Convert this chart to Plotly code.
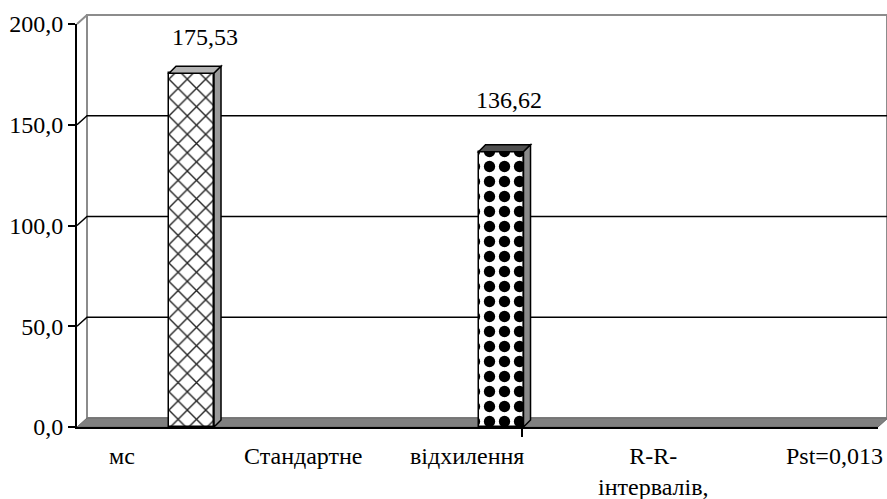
import plotly.graph_objects as go

# ---------------- data ----------------
groups = ["Група 1", "Група 2"]
values = [175.53, 136.62]
value_labels = ["175,53", "136,62"]
axis_words = ["мс", "Стандартне", "відхилення", "R-R-<br>інтервалів,", "Pst=0,013"]
y_ticks = [0, 50, 100, 150, 200]

# ---------------- geometry / style ----------------
W, H = 887, 499
L, R, T, B = 77, 9, 24, 72
PW, PH = W - L - R, H - T - B
X_RANGE = [-0.37, 2.218]
Y_RANGE = [0, 200]
BAR_W = 0.1454
DEPTH = (7, 7)          # bar depth in px (right, up)
WALL = (10, 9)          # wall/floor depth in px
FONT = "Liberation Serif, Times New Roman, serif"


def px_x(xd):
    return L + (xd - X_RANGE[0]) / (X_RANGE[1] - X_RANGE[0]) * PW


def px_y(yd):
    return T + PH - (yd - Y_RANGE[0]) / (Y_RANGE[1] - Y_RANGE[0]) * PH


def pap(px, py):
    return (px - L) / PW, (T + PH - py) / PH


def path(points):
    pts = [pap(*p) for p in points]
    s = "M %f %f" % pts[0]
    for p in pts[1:]:
        s += " L %f %f" % p
    return s + " Z"


def polyline(points):
    pts = [pap(*p) for p in points]
    s = "M %f %f" % pts[0]
    for p in pts[1:]:
        s += " L %f %f" % p
    return s


shapes = []
x0f, x1f = L, L + PW
y0f = T + PH
# back wall
shapes.append(dict(type="path", xref="paper", yref="paper", layer="below",
                   path=path([(x0f + WALL[0], y0f - WALL[1]), (x0f + WALL[0], T - WALL[1]),
                              (x1f + WALL[0] - 1, T - WALL[1]), (x1f + WALL[0] - 1, y0f - WALL[1])]),
                   fillcolor="white", line=dict(color="#8c8c8c", width=2)))
# gridlines on back wall
for v in y_ticks[1:-1]:
    yy = px_y(v)
    shapes.append(dict(type="path", xref="paper", yref="paper", layer="below",
                       path=polyline([(x0f, yy), (x0f + WALL[0], yy - WALL[1]),
                                      (x1f + WALL[0] - 1, yy - WALL[1])]),
                       line=dict(color="black", width=1.5)))
# top diagonal at 200
shapes.append(dict(type="path", xref="paper", yref="paper", layer="below",
                   path=polyline([(x0f, T), (x0f + WALL[0], T - WALL[1])]),
                   line=dict(color="#8c8c8c", width=2)))
# floor
shapes.append(dict(type="path", xref="paper", yref="paper", layer="below",
                   path=path([(x0f, y0f), (x1f, y0f), (x1f + WALL[0], y0f - WALL[1]),
                              (x0f + WALL[0], y0f - WALL[1])]),
                   fillcolor="#808080", line=dict(color="#6a6a6a", width=1)))
# category tick
tick_x = px_x(1 + BAR_W / 2 - 0.005)
shapes.append(dict(type="line", xref="paper", yref="paper",
                   x0=pap(tick_x, 0)[0], x1=pap(tick_x, 0)[0],
                   y0=pap(0, y0f)[1], y1=pap(0, y0f + 10)[1],
                   line=dict(color="black", width=2)))

top_cols = ["#b4b4b4", "#505050"]
side_cols = ["#9a9a9a", "#8a8a8a"]
for i, v in enumerate(values):
    xl, xr = px_x(i - BAR_W / 2), px_x(i + BAR_W / 2)
    yt, yb = px_y(v), px_y(0)
    dxp, dyp = DEPTH
    shapes.append(dict(type="path", xref="paper", yref="paper", layer="above",
                       path=path([(xl, yt), (xl + dxp, yt - dyp), (xr + dxp, yt - dyp), (xr, yt)]),
                       fillcolor=top_cols[i], line=dict(color="black", width=1.5)))
    shapes.append(dict(type="path", xref="paper", yref="paper", layer="above",
                       path=path([(xr, yt), (xr + dxp, yt - dyp), (xr + dxp, yb - dyp), (xr, yb)]),
                       fillcolor=side_cols[i], line=dict(color="black", width=1.5)))

fig = go.Figure()
fig.add_trace(go.Bar(
    x=groups, y=values, width=BAR_W,
    marker=dict(
        color="white",
        line=dict(color="black", width=1.5),
        pattern=dict(shape=["x", "."], fgcolor=["#222222", "black"], bgcolor="white",
                     fgopacity=1, size=[13, 15], solidity=[0.2, 0.45], fillmode="overlay"),
    ),
    hoverinfo="skip", showlegend=False,
))

annotations = []
label_shift = [(13, 36), (8, 52)]
for i, (v, t) in enumerate(zip(values, value_labels)):
    annotations.append(dict(x=groups[i], y=v, xref="x", yref="y", text=t, showarrow=False,
                            xshift=label_shift[i][0], yshift=label_shift[i][1],
                            font=dict(family=FONT, size=24, color="black")))

word_px = [122, 303, 467, 653, 834]
for w, xp in zip(axis_words, word_px):
    annotations.append(dict(x=pap(xp, 0)[0], y=pap(0, 441)[1], xref="paper", yref="paper",
                            text=w, showarrow=False, xanchor="center", yanchor="top",
                            font=dict(family=FONT, size=24, color="black")))

fig.update_layout(
    width=W, height=H,
    margin=dict(l=L, r=R, t=T, b=B, pad=0),
    paper_bgcolor="white", plot_bgcolor="rgba(0,0,0,0)",
    separators=",.",
    shapes=shapes, annotations=annotations,
    font=dict(family=FONT, size=24, color="black"),
    xaxis=dict(type="category", range=X_RANGE, showticklabels=False, ticks="",
               showgrid=False, zeroline=False, showline=True, linecolor="black", linewidth=2),
    yaxis=dict(range=Y_RANGE, tickvals=y_ticks, tickformat=".1f", ticks="outside",
               ticklen=7, tickwidth=2, tickcolor="black", showline=True, linecolor="black",
               linewidth=2, showgrid=False, zeroline=False,
               tickfont=dict(family=FONT, size=24, color="black")),
    bargap=0,
)

fig.write_html("out.html", config={"displayModeBar": False},
               post_script="document.body.style.margin='0px';document.body.style.padding='0px';")
